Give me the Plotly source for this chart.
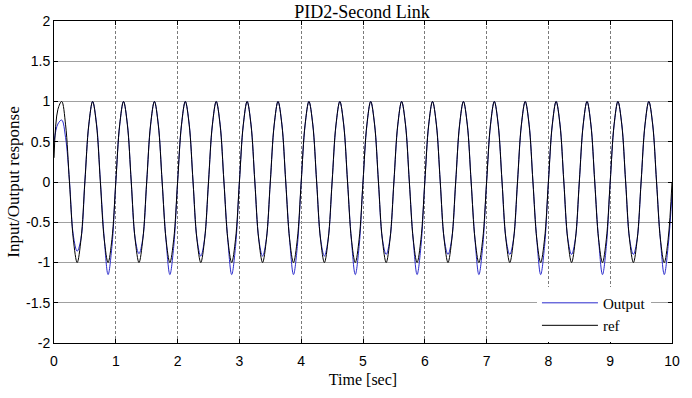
import numpy as np
import plotly.graph_objects as go

# time samples (every 1/8 of a 0.5 s period)
time_s = [round(i * 0.0625, 4) for i in range(161)]

ref_vals = [
    0.30, 0.90, 1.00, 0.71, 0.00, -0.71, -1.00, -0.71,
    0.00, 0.71, 1.00, 0.71, 0.00, -0.71, -1.00, -0.71,
    0.00, 0.71, 1.00, 0.71, 0.00, -0.71, -1.00, -0.71,
    0.00, 0.71, 1.00, 0.71, 0.00, -0.71, -1.00, -0.71,
    0.00, 0.71, 1.00, 0.71, 0.00, -0.71, -1.00, -0.71,
    0.00, 0.71, 1.00, 0.71, 0.00, -0.71, -1.00, -0.71,
    0.00, 0.71, 1.00, 0.71, 0.00, -0.71, -1.00, -0.71,
    0.00, 0.71, 1.00, 0.71, 0.00, -0.71, -1.00, -0.71,
    0.00, 0.71, 1.00, 0.71, 0.00, -0.71, -1.00, -0.71,
    0.00, 0.71, 1.00, 0.71, 0.00, -0.71, -1.00, -0.71,
    0.00, 0.71, 1.00, 0.71, 0.00, -0.71, -1.00, -0.71,
    0.00, 0.71, 1.00, 0.71, 0.00, -0.71, -1.00, -0.71,
    0.00, 0.71, 1.00, 0.71, 0.00, -0.71, -1.00, -0.71,
    0.00, 0.71, 1.00, 0.71, 0.00, -0.71, -1.00, -0.71,
    0.00, 0.71, 1.00, 0.71, 0.00, -0.71, -1.00, -0.71,
    0.00, 0.71, 1.00, 0.71, 0.00, -0.71, -1.00, -0.71,
    0.00, 0.71, 1.00, 0.71, 0.00, -0.71, -1.00, -0.71,
    0.00, 0.71, 1.00, 0.71, 0.00, -0.71, -1.00, -0.71,
    0.00, 0.71, 1.00, 0.71, 0.00, -0.71, -1.00, -0.71,
    0.00, 0.71, 1.00, 0.71, 0.00, -0.71, -1.00, -0.71,
    0.00,
]

out_vals = [
    0.50, 0.72, 0.77, 0.55, 0.02, -0.66, -0.86, -0.70,
    0.02, 0.70, 1.00, 0.73, 0.02, -0.70, -1.15, -0.80,
    0.00, 0.70, 1.00, 0.72, 0.00, -0.70, -0.89, -0.70,
    0.00, 0.70, 1.00, 0.72, 0.00, -0.72, -1.15, -0.80,
    0.00, 0.70, 1.00, 0.72, 0.00, -0.70, -0.92, -0.70,
    0.00, 0.70, 1.00, 0.72, 0.00, -0.72, -1.15, -0.80,
    0.00, 0.70, 1.00, 0.72, 0.00, -0.70, -0.92, -0.70,
    0.00, 0.70, 1.00, 0.72, 0.00, -0.72, -1.15, -0.80,
    0.00, 0.70, 1.00, 0.72, 0.00, -0.70, -0.92, -0.70,
    0.00, 0.70, 1.00, 0.72, 0.00, -0.72, -1.15, -0.80,
    0.00, 0.70, 1.00, 0.72, 0.00, -0.70, -0.90, -0.70,
    0.00, 0.70, 1.00, 0.72, 0.00, -0.72, -1.15, -0.80,
    0.00, 0.70, 1.00, 0.72, 0.00, -0.70, -0.90, -0.70,
    0.00, 0.70, 1.00, 0.72, 0.00, -0.72, -1.15, -0.80,
    0.00, 0.70, 1.00, 0.72, 0.00, -0.70, -0.90, -0.70,
    0.00, 0.70, 1.00, 0.72, 0.00, -0.72, -1.15, -0.80,
    0.00, 0.70, 1.00, 0.72, 0.00, -0.70, -0.90, -0.70,
    0.00, 0.70, 1.00, 0.72, 0.00, -0.72, -1.15, -0.80,
    0.00, 0.70, 1.00, 0.72, 0.00, -0.70, -0.90, -0.70,
    0.00, 0.70, 1.00, 0.72, 0.00, -0.72, -1.15, -0.80,
    -0.15,
]

x_ticks = [0, 1, 2, 3, 4, 5, 6, 7, 8, 9, 10]
y_ticks = [-2, -1.5, -1, -0.5, 0, 0.5, 1, 1.5, 2]
y_tick_text = ["-2", "-1.5", "-1", "-0.5", "0", "0.5", "1", "1.5", "2"]

serif = "Liberation Serif, Times New Roman, serif"
sans = "Liberation Sans, Arial, sans-serif"

fig = go.Figure()
fig.add_trace(go.Scatter(x=time_s, y=out_vals, mode="lines", name="Output",
                         line=dict(color="#2a2acc", width=1, shape="spline", smoothing=1.0)))
fig.add_trace(go.Scatter(x=time_s, y=ref_vals, mode="lines", name="ref",
                         line=dict(color="#000000", width=1, shape="spline", smoothing=1.0)))

fig.update_layout(
    width=692, height=398,
    margin=dict(l=53, r=12, t=21, b=46),
    paper_bgcolor="white", plot_bgcolor="white",
    title=dict(text="PID2-Second Link", x=362 / 692, xanchor="center", xref="container",
               y=1 - 12 / 398, yanchor="middle", yref="container",
               font=dict(family=serif, size=18, color="black")),
    showlegend=True,
    legend=dict(x=(543 - 53) / 627, y=(352 - 294) / 331, xanchor="left", yanchor="top",
                bgcolor="white", borderwidth=0,
                font=dict(family=serif, size=15, color="black"),
                tracegroupgap=0, itemwidth=56),
)

fig.update_xaxes(range=[0, 10], tickvals=x_ticks, ticktext=[str(v) for v in x_ticks],
                 showline=True, linecolor="black", linewidth=1, mirror="ticks",
                 ticks="inside", ticklen=4, tickcolor="black",
                 showgrid=True, gridcolor="#7a7a7a", griddash="3px,2px", gridwidth=1,
                 zeroline=False, ticklabelstandoff=5,
                 tickfont=dict(family=sans, size=14, color="black"),
                 title=dict(text="Time [sec]", font=dict(family=serif, size=16, color="black"),
                            standoff=6))
fig.update_yaxes(range=[-2, 2], tickvals=y_ticks, ticktext=y_tick_text,
                 showline=True, linecolor="black", linewidth=1, mirror="ticks",
                 ticks="inside", ticklen=4, tickcolor="black",
                 showgrid=True, gridcolor="#a0a0a0", gridwidth=1,
                 zeroline=False,
                 tickfont=dict(family=sans, size=14, color="black"),
                 title=dict(text="Input/Output response", font=dict(family=serif, size=17, color="black"),
                            standoff=2))

fig.write_html("out.html")
